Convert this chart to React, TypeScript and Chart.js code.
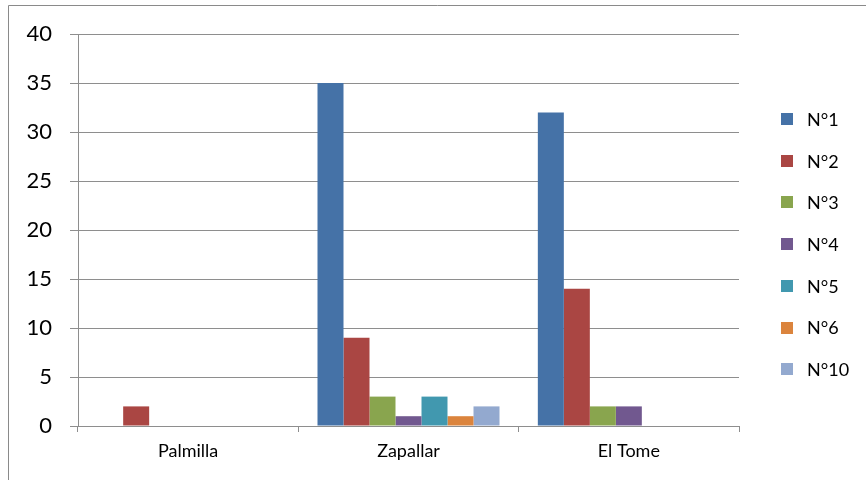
import React, { useEffect, useRef } from "react";
import { Chart, registerables } from "chart.js";

Chart.register(...registerables);

const categories = ["Palmilla", "Zapallar", "El Tome"];
const seriesNames = ["N°1", "N°2", "N°3", "N°4", "N°5", "N°6", "N°10"];
const n1 = [0, 35, 32];
const n2 = [2, 9, 14];
const n3 = [0, 3, 2];
const n4 = [0, 1, 2];
const n5 = [0, 3, 0];
const n6 = [0, 1, 0];
const n10 = [0, 2, 0];
const seriesValues = [n1, n2, n3, n4, n5, n6, n10];
const seriesColors = ["#4572A7", "#AA4643", "#89A54E", "#71588F", "#4198AF", "#DB843D", "#93A9CF"];
const yTicks = [0, 5, 10, 15, 20, 25, 30, 35, 40];

const FONT = "Lato, 'Open Sans', sans-serif";
const AXIS_GRAY = "#8e8e8e";

// Frame around the whole chart
const framePlugin = {
  id: "frame",
  beforeDraw(chart: Chart) {
    const { ctx, width, height } = chart;
    ctx.save();
    ctx.fillStyle = "#ffffff";
    ctx.fillRect(0, 0, width, height);
    ctx.strokeStyle = "#8a8a8a";
    ctx.lineWidth = 1;
    ctx.beginPath();
    ctx.moveTo(8.5, height);
    ctx.lineTo(8.5, 5.5);
    ctx.lineTo(width, 5.5);
    ctx.stroke();
    ctx.restore();
  },
};

// Vertical legend on the right side
const sideLegendPlugin = {
  id: "sideLegend",
  afterDraw(chart: Chart) {
    const { ctx } = chart;
    const step = 41.7;
    ctx.save();
    ctx.font = `18px ${FONT}`;
    ctx.textBaseline = "middle";
    ctx.textAlign = "left";
    chart.data.datasets.forEach((ds: any, i: number) => {
      const cy = 119 + i * step;
      ctx.fillStyle = ds.backgroundColor;
      ctx.fillRect(781, Math.round(cy - 6), 12, 12);
      ctx.fillStyle = "#000000";
      ctx.fillText(ds.label, 807, cy + 1);
    });
    ctx.restore();
  },
};

export default function App() {
  const canvasRef = useRef<HTMLCanvasElement | null>(null);

  useEffect(() => {
    if (!canvasRef.current) return;
    const chart = new Chart(canvasRef.current, {
      type: "bar",
      data: {
        labels: categories,
        datasets: seriesNames.map((name, i) => ({
          label: name,
          data: seriesValues[i],
          backgroundColor: seriesColors[i],
          borderWidth: 0,
          categoryPercentage: 0.826,
          barPercentage: 1,
        })),
      },
      options: {
        animation: false,
        responsive: false,
        maintainAspectRatio: false,
        devicePixelRatio: 1,
        layout: { padding: { left: 0, right: 127, top: 34, bottom: 0 } },
        plugins: {
          legend: { display: false },
          tooltip: { enabled: false },
        },
        scales: {
          x: {
            grid: {
              display: true,
              drawOnChartArea: false,
              drawTicks: true,
              tickLength: 6,
              color: AXIS_GRAY,
              offset: true,
            },
            border: { display: true, color: AXIS_GRAY, width: 1 },
            ticks: {
              color: "#000000",
              font: { family: FONT, size: 18 },
              padding: 8,
              maxRotation: 0,
            },
            afterFit(scale: any) {
              scale.height = 54;
            },
          },
          y: {
            min: 0,
            max: 40,
            afterBuildTicks(scale: any) {
              scale.ticks = yTicks.map((v) => ({ value: v }));
            },
            grid: {
              color: AXIS_GRAY,
              lineWidth: 1,
              drawTicks: true,
              tickLength: 8,
            },
            border: { display: true, color: AXIS_GRAY, width: 1 },
            ticks: {
              color: "#000000",
              font: { family: FONT, size: 22 },
              padding: 18,
            },
            afterFit(scale: any) {
              scale.width = 78;
            },
          },
        },
      },
      plugins: [framePlugin, sideLegendPlugin],
    });
    return () => chart.destroy();
  }, []);

  return (
    <div style={{ position: "fixed", left: 0, top: 0, width: 866, height: 480 }}>
      <canvas ref={canvasRef} width={866} height={480} style={{ display: "block" }} />
    </div>
  );
}
